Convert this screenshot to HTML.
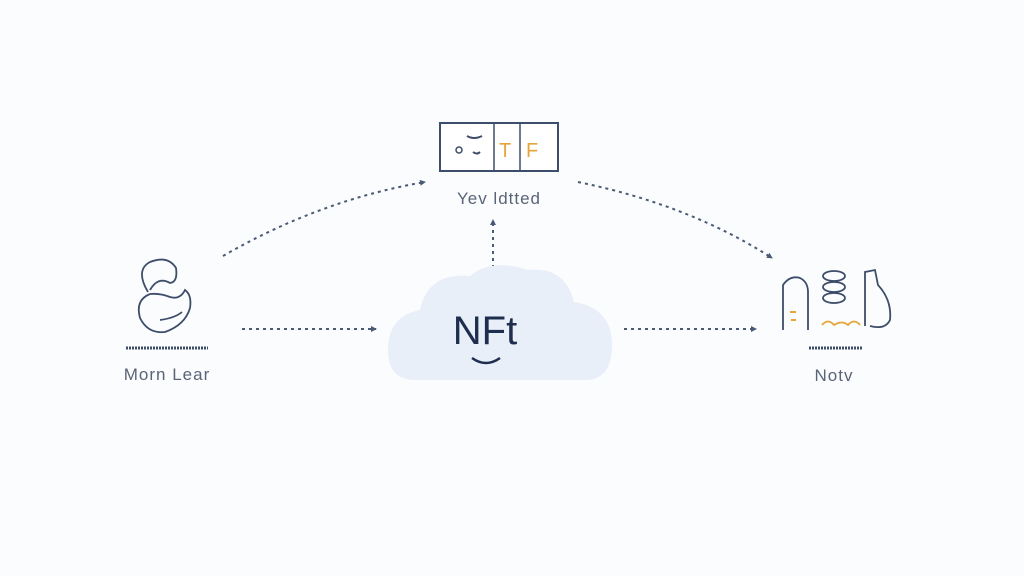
<!DOCTYPE html>
<html><head><style>
html,body{margin:0;padding:0;background:#fbfcfd;}
svg{display:block}
text{font-family:"Liberation Sans",sans-serif}
</style></head><body>
<svg width="1024" height="576" viewBox="0 0 1024 576">
<rect width="1024" height="576" fill="#fbfcfd"/>
<defs><marker id="a" markerWidth="6" markerHeight="6" refX="5" refY="3" orient="auto" markerUnits="userSpaceOnUse"><path d="M0,0 L6,3 L0,6 Z" fill="#4a5a75"/></marker></defs>
<g stroke="#4a5a75" stroke-width="2" stroke-dasharray="3,4" fill="none">
<path d="M223,256 Q320,200 425,182" marker-end="url(#a)"/>
<path d="M578,182 Q690,205 772,258" marker-end="url(#a)"/>
<path d="M493,268 L493,220" marker-end="url(#a)"/>
<path d="M242,329 L376,329" marker-end="url(#a)"/>
<path d="M624,329 L756,329" marker-end="url(#a)"/>
</g>
<rect x="440" y="123" width="118" height="48" fill="#fff" stroke="#3d4d6a" stroke-width="2"/>
<line x1="494" y1="123" x2="494" y2="171" stroke="#3d4d6a" stroke-width="1.5"/>
<line x1="520" y1="123" x2="520" y2="171" stroke="#3d4d6a" stroke-width="1.5"/>
<path d="M467,136 Q474,140 482,136 M473,152 Q477,155 480,152" stroke="#3d4d6a" stroke-width="2" fill="none"/>
<circle cx="459" cy="150" r="3" fill="none" stroke="#3d4d6a" stroke-width="1.5"/>
<text x="499" y="157" font-size="20" fill="#e6a53a">T</text>
<text x="526" y="157" font-size="20" fill="#e6a53a">F</text>
<text x="499" y="204" font-size="17" fill="#5a6478" text-anchor="middle" letter-spacing="1">Yev ldtted</text>
<path d="M415,380 Q388,380 388,350 Q388,316 420,310 Q428,272 470,276 Q492,258 528,270 Q565,266 574,302 Q612,308 612,345 Q612,380 585,380 Z" fill="#e8eff9"/>
<text x="485" y="344" font-size="40" fill="#1f2d4f" text-anchor="middle">NFt</text>
<path d="M472,358 Q486,368 500,358" stroke="#1f2d4f" stroke-width="2.5" fill="none"/>
<g stroke="#3d4d6a" stroke-width="1.8" fill="none">
<path d="M148,292 Q135,270 150,262 Q168,255 176,268 Q178,282 170,283 Q158,276 150,290"/>
<path d="M150,294 Q135,300 140,318 Q148,334 165,332 Q185,325 190,308 Q192,295 185,290 Q180,300 170,297 Q160,293 150,294"/>
<path d="M160,320 Q175,318 182,312"/>
</g>
<line x1="126" y1="348" x2="208" y2="348" stroke="#3d4d6a" stroke-width="3" stroke-dasharray="2,1"/>
<text x="167" y="380" font-size="17" fill="#5a6478" text-anchor="middle" letter-spacing="1">Morn Lear</text>
<g stroke="#3d4d6a" stroke-width="1.8" fill="none">
<path d="M783,330 L783,285 Q790,275 800,278 Q808,282 808,292 L808,330"/>
<ellipse cx="834" cy="276" rx="11" ry="5"/>
<ellipse cx="834" cy="287" rx="11" ry="5"/>
<ellipse cx="834" cy="298" rx="11" ry="5"/>
<path d="M865,326 L865,272 L875,270 L878,285 Q892,300 890,320 Q885,330 870,326"/>
</g>
<path d="M822,325 Q828,318 834,325 Q842,320 848,325 Q854,318 860,325" stroke="#e6a53a" stroke-width="1.8" fill="none"/>
<line x1="790" y1="312" x2="796" y2="312" stroke="#e6a53a" stroke-width="2"/>
<line x1="791" y1="320" x2="796" y2="320" stroke="#e6a53a" stroke-width="2"/>
<line x1="809" y1="348" x2="862" y2="348" stroke="#3d4d6a" stroke-width="3" stroke-dasharray="2,1"/>
<text x="834" y="381" font-size="17" fill="#5a6478" text-anchor="middle" letter-spacing="1">Notv</text>
</svg>
</body></html>
